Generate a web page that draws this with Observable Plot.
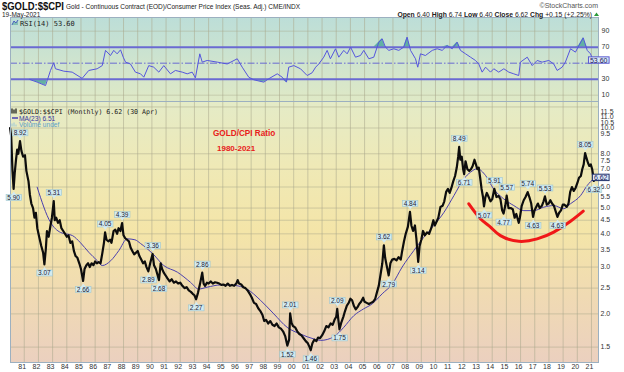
<!DOCTYPE html>
<html><head><meta charset="utf-8">
<script src="https://cdn.jsdelivr.net/npm/d3@7"></script>
<script src="https://cdn.jsdelivr.net/npm/@observablehq/plot@0.6"></script>
<style>
html,body{margin:0;padding:0;background:#fff;}
#root{position:relative;width:624px;height:372px;overflow:hidden;background:#fff;font-family:"Liberation Sans",Arial,sans-serif;}
.abs{position:absolute;}
#rsiBg{left:10px;top:17px;width:588px;height:84px;background:linear-gradient(#bcded8,#dfe9c6);}
#mainBg{left:10px;top:101px;width:588px;height:261px;background:linear-gradient(#e4ebc7 0%,#efe9b6 25%,#f4e5a8 50%,#f0dab3 75%,#ebd0bf 100%);}
svg{overflow:visible;}
</style></head>
<body>
<div id="root">
  <div id="rsiBg" class="abs"></div>
  <div id="mainBg" class="abs"></div>
  <div id="rsi" class="abs" style="left:0;top:17px;"></div>
  <div id="main" class="abs" style="left:0;top:101px;"></div>
  <svg id="ov" class="abs" width="624" height="372" style="left:0;top:0;pointer-events:none;font-family:'Liberation Sans',Arial,sans-serif;">
    <text x="2" y="10" font-size="11" font-weight="bold" textLength="62" lengthAdjust="spacingAndGlyphs" fill="#111">$GOLD:$$CPI</text>
    <text x="66" y="9" font-size="6.5" fill="#222">Gold - Continuous Contract (EOD)/Consumer Price Index (Seas. Adj.) CME/INDX</text>
    <text x="2" y="16.5" font-size="6.5" fill="#222">19-May-2021</text>
    <text x="598" y="8" font-size="7" fill="#555" text-anchor="end">©StockCharts.com</text>
    <text x="592" y="16.5" font-size="6.8" fill="#222" text-anchor="end"><tspan font-weight="bold">Open</tspan> 6.40  <tspan font-weight="bold">High</tspan> 6.74  <tspan font-weight="bold">Low</tspan> 6.40  <tspan font-weight="bold">Close</tspan> 6.62  <tspan font-weight="bold">Chg</tspan> +0.15 (+2.25%)</text>
    <path d="M594,16 L596.5,12.5 L599,16 Z" fill="#2a9a3a"/>
    <path d="M12,25 L14,21 L16,23 L18,20" fill="none" stroke="#4444cc" stroke-width="1"/>
    <path d="M12,25 L14,21 L16,23 L18,20 L18,25 Z" fill="#5aa8a0" opacity="0.6"/>
    <text x="20" y="25.5" font-size="7" fill="#222" font-family="DejaVu Sans Mono,monospace">RSI(14) 53.60</text>
    <path d="M12,113.5 v-5 M14,113.5 v-4 M16,113.5 v-5" stroke="#111" stroke-width="1.2"/>
    <text x="19" y="113.5" font-size="6.6" fill="#222" font-family="DejaVu Sans Mono,monospace">$GOLD:$$CPI (Monthly) 6.62 (30 Apr)</text>
    <path d="M12,118 h6" stroke="#4a40b0" stroke-width="1.5"/>
    <text x="19" y="120.5" font-size="6.6" fill="#3838a0">MA(23) 6.51</text>
    <path d="M12,126.5 v-3 M14,126.5 v-4 M16,126.5 v-2" stroke="#9cc8d8" stroke-width="1"/>
    <text x="19" y="127" font-size="6.6" fill="#5aa0c8">Volume undef</text>
    <text x="213" y="135.5" font-size="8.2" font-weight="bold" fill="#e8201a">GOLD/CPI Ratio</text>
    <text x="217" y="150.5" font-size="8" font-weight="bold" fill="#e8201a">1980-2021</text>
  </svg>
</div>
<script>
// ---------------- DATA ----------------
const priceYears = [1980.00,1980.08,1980.17,1980.25,1980.33,1980.42,1980.50,1980.58,1980.70,1980.80,1980.92,
1981.05,1981.15,1981.30,1981.40,1981.50,1981.62,1981.72,1981.82,1981.92,
1982.05,1982.20,1982.33,1982.42,1982.52,1982.60,1982.72,1982.85,1982.95,
1983.08,1983.15,1983.25,1983.38,1983.50,1983.62,1983.75,1983.88,
1984.00,1984.12,1984.25,1984.38,1984.50,1984.62,1984.75,1984.88,
1985.00,1985.15,1985.25,1985.38,1985.50,1985.62,1985.75,1985.88,
1986.00,1986.12,1986.25,1986.38,1986.50,1986.62,1986.70,1986.80,1986.92,
1987.05,1987.15,1987.30,1987.42,1987.55,1987.65,1987.78,1987.90,
1988.00,1988.12,1988.25,1988.38,1988.50,1988.62,1988.75,1988.88,
1989.00,1989.12,1989.25,1989.38,1989.50,1989.62,1989.75,1989.88,
1990.05,1990.15,1990.28,1990.40,1990.50,1990.62,1990.72,1990.85,1990.95,
1991.10,1991.25,1991.40,1991.55,1991.70,1991.85,
1992.00,1992.15,1992.30,1992.45,1992.60,1992.75,1992.88,
1993.00,1993.12,1993.25,1993.40,1993.55,1993.65,1993.75,1993.88,
1994.00,1994.15,1994.30,1994.45,1994.60,1994.75,1994.90,
1995.05,1995.20,1995.35,1995.50,1995.65,1995.80,1995.95,
1996.05,1996.15,1996.30,1996.45,1996.60,1996.75,1996.90,
1997.05,1997.20,1997.35,1997.50,1997.65,1997.80,1997.92,
1998.05,1998.20,1998.35,1998.50,1998.65,1998.80,1998.95,
1999.10,1999.25,1999.40,1999.55,1999.68,1999.75,1999.85,1999.95,
2000.10,2000.25,2000.40,2000.55,2000.70,2000.85,
2001.00,2001.12,2001.20,2001.32,2001.45,2001.60,2001.72,2001.85,
2002.00,2002.15,2002.30,2002.45,2002.60,2002.75,2002.88,
2003.00,2003.07,2003.15,2003.23,2003.35,2003.50,2003.62,2003.75,2003.88,
2004.00,2004.12,2004.25,2004.38,2004.50,2004.62,2004.75,2004.90,
2005.00,2005.15,2005.30,2005.45,2005.60,2005.75,2005.88,
2006.00,2006.12,2006.25,2006.36,2006.45,2006.55,2006.70,2006.82,2006.95,
2007.10,2007.25,2007.40,2007.55,2007.65,2007.78,2007.90,
2008.05,2008.20,2008.30,2008.42,2008.55,2008.65,2008.78,2008.88,
2009.00,2009.12,2009.25,2009.40,2009.55,2009.70,2009.85,2009.95,
2010.08,2010.20,2010.35,2010.50,2010.62,2010.75,2010.88,
2011.00,2011.12,2011.25,2011.38,2011.50,2011.60,2011.67,2011.75,2011.85,2011.95,
2012.02,2012.12,2012.25,2012.38,2012.50,2012.62,2012.75,2012.85,2012.95,
2013.05,2013.15,2013.25,2013.35,2013.42,2013.52,2013.62,2013.75,2013.88,
2014.00,2014.15,2014.30,2014.45,2014.58,2014.70,2014.80,2014.92,
2015.02,2015.15,2015.30,2015.45,2015.58,2015.70,2015.87,2015.95,
2016.08,2016.22,2016.35,2016.50,2016.62,2016.75,2016.88,2016.98,
2017.10,2017.22,2017.35,2017.50,2017.62,2017.72,2017.85,2017.98,
2018.10,2018.22,2018.35,2018.48,2018.60,2018.72,2018.85,2018.98,
2019.10,2019.25,2019.38,2019.50,2019.62,2019.75,2019.88,
2020.00,2020.12,2020.25,2020.35,2020.45,2020.55,2020.65,2020.75,2020.85,2020.95,
2021.05,2021.17,2021.25,2021.33];
const priceValues = [10.0,9.3,6.9,5.9,6.8,7.6,8.3,8.0,8.92,8.2,7.8,
7.9,6.9,6.3,5.6,5.2,5.0,4.6,4.8,4.2,
3.9,3.6,3.4,3.07,3.5,4.1,3.9,4.3,4.6,
5.31,4.5,4.6,4.4,4.5,4.2,4.1,4.0,
3.9,3.95,3.7,3.75,3.45,3.3,3.25,3.1,
2.95,2.66,2.95,3.05,3.1,3.0,3.1,3.05,
3.15,3.1,3.13,3.1,3.37,3.7,4.05,3.8,3.75,
3.8,3.7,4.1,4.15,4.0,4.2,4.1,4.39,
3.95,3.85,3.8,3.75,3.55,3.45,3.35,3.4,
3.45,3.3,3.2,3.1,3.15,3.0,2.89,3.1,
3.36,3.05,2.95,2.8,2.68,3.1,2.95,2.85,2.8,
2.72,2.65,2.7,2.62,2.65,2.6,
2.62,2.55,2.5,2.52,2.45,2.42,2.38,
2.35,2.27,2.4,2.6,2.86,2.6,2.55,2.62,
2.6,2.65,2.6,2.63,2.62,2.6,2.57,
2.58,2.55,2.6,2.55,2.57,2.55,2.6,
2.68,2.6,2.58,2.52,2.5,2.45,2.38,
2.3,2.2,2.18,2.1,2.05,1.98,1.88,
1.9,1.84,1.88,1.82,1.8,1.84,1.78,
1.76,1.72,1.65,1.52,1.6,2.01,1.85,1.8,
1.78,1.72,1.68,1.66,1.62,1.58,
1.55,1.5,1.46,1.55,1.6,1.58,1.63,1.62,
1.66,1.72,1.8,1.78,1.84,1.82,1.9,
1.95,2.09,1.9,1.75,1.85,1.95,2.05,2.15,2.2,
2.28,2.25,2.14,2.08,2.12,2.18,2.22,2.3,
2.22,2.2,2.18,2.2,2.22,2.28,2.42,
2.55,2.8,3.1,3.62,3.25,3.05,2.79,3.1,3.2,
3.22,3.18,3.27,3.2,3.45,3.75,4.0,
4.25,4.84,4.3,4.1,4.3,3.85,3.14,3.6,
3.8,4.1,3.95,4.05,4.0,4.2,4.5,4.3,
4.45,4.6,5.05,5.1,5.3,5.75,5.9,
5.7,5.95,6.3,6.6,7.1,7.8,8.49,7.6,7.8,7.0,
6.71,7.5,7.0,6.9,7.0,7.2,7.6,7.3,7.0,
7.1,6.5,5.9,5.5,5.07,5.5,5.7,5.5,5.3,
5.4,5.91,5.5,5.55,5.4,4.9,4.77,5.1,
5.57,5.0,5.0,4.95,4.6,4.75,4.4,4.6,
5.1,5.35,5.5,5.74,5.5,5.2,4.63,4.9,
5.05,5.2,5.0,5.1,5.3,5.53,5.15,5.2,
5.35,5.2,5.1,4.85,4.63,4.8,4.9,5.15,
5.15,5.05,5.2,5.75,6.0,5.8,5.95,
6.2,6.5,6.6,7.0,7.3,8.05,7.7,7.4,7.2,7.3,
7.0,6.32,6.5,6.62];

const maYears = [1981.91,1982.85,1983.55,1984.40,1984.97,1985.55,1986.15,1986.50,1987.10,1987.67,1988.26,1988.80,1989.20,1990.10,1990.84,1991.80,1992.72,1993.30,1993.90,1994.84,1995.78,1996.70,1997.66,1998.60,1999.54,2000.48,2001.42,2001.90,2002.83,2003.53,2004.24,2004.94,2005.53,2006.24,2006.95,2007.65,2008.47,2009.17,2009.88,2010.60,2011.30,2012.00,2012.47,2012.94,2013.53,2014.10,2014.80,2015.52,2016.23,2016.93,2017.64,2018.34,2019.05,2019.52,2020.23,2020.70,2021.17,2021.33];
const maValues = [5.99,4.42,4.05,3.94,3.70,3.41,3.17,3.04,3.17,3.46,3.83,3.80,3.68,3.35,3.04,2.87,2.63,2.48,2.52,2.57,2.56,2.48,2.25,2.00,1.78,1.68,1.61,1.59,1.64,1.78,1.97,2.09,2.18,2.38,2.59,3.00,3.46,3.88,4.30,4.82,5.57,6.44,6.82,7.03,6.63,5.90,5.42,5.11,4.89,4.89,5.04,5.11,4.97,5.19,5.57,6.08,6.44,6.51];

const rsiYears = [1981.39,1981.91,1982.50,1982.62,1982.85,1983.08,1983.20,1983.79,1984.38,1985.08,1985.55,1986.14,1986.50,1986.73,1987.08,1987.31,1987.55,1987.79,1987.98,1988.14,1988.49,1988.84,1989.20,1989.43,1989.78,1990.13,1990.49,1990.84,1991.31,1991.66,1992.14,1992.49,1992.84,1993.07,1993.38,1993.55,1993.90,1994.61,1995.31,1996.02,1996.37,1996.83,1997.19,1997.89,1998.24,1998.84,1999.19,1999.49,1999.65,2000.01,2000.48,2000.95,2001.30,2001.55,2001.77,2002.12,2002.36,2002.59,2002.95,2003.18,2003.53,2003.77,2004.01,2004.36,2004.71,2004.94,2005.30,2005.65,2006.00,2006.24,2006.47,2006.71,2007.06,2007.41,2007.76,2008.00,2008.24,2008.59,2008.75,2008.94,2009.29,2009.77,2010.12,2010.47,2010.82,2011.18,2011.53,2011.76,2012.12,2012.47,2012.82,2013.05,2013.29,2013.53,2013.88,2014.11,2014.46,2014.82,2015.17,2015.52,2015.87,2015.99,2016.47,2016.82,2017.17,2017.52,2017.99,2018.34,2018.58,2018.93,2019.16,2019.52,2019.87,2020.11,2020.42,2020.70,2020.93,2021.16,2021.29];
const rsiValues = [29.6,26.3,22.0,28.4,40.9,50.5,43.0,40.0,38.8,31.0,40.9,43.0,47.0,66.0,59.6,66.0,61.7,66.7,57.5,51.3,49.0,38.8,36.7,32.5,47.0,45.0,38.8,47.0,36.7,40.9,38.8,36.7,38.8,31.7,61.7,51.3,53.4,51.3,49.0,55.5,45.0,32.5,29.2,26.3,30.5,36.7,32.5,26.3,45.0,47.0,43.0,34.6,38.0,45.0,49.0,57.5,66.0,55.5,68.0,57.5,66.0,61.7,70.0,57.5,59.6,66.0,55.5,57.5,76.3,80.5,70.0,66.0,68.0,66.0,70.0,82.5,66.0,55.5,45.0,61.7,59.6,66.0,68.0,66.0,72.0,68.0,76.3,66.0,61.7,57.5,53.4,49.0,38.8,45.0,38.8,43.0,38.8,43.0,38.8,36.7,34.6,51.3,57.5,47.0,53.4,51.3,53.4,49.0,40.9,45.0,51.3,68.0,63.8,72.0,81.7,66.0,61.7,51.3,53.6];

const peakYears  = [1980.70,1983.08,1986.70,1987.90,1990.05,1993.55,1999.75,2003.07,2006.36,2008.20,2011.67,2014.15,2015.02,2016.50,2017.72,2020.55];
const peakValues = [8.92,5.31,4.05,4.39,3.36,2.86,2.01,2.09,3.62,4.84,8.49,5.91,5.57,5.74,5.53,8.05];
const troughYears  = [1980.25,1982.42,1985.15,1989.75,1990.50,1993.12,1999.55,2001.20,2003.23,2006.70,2008.78,2012.02,2013.42,2014.80,2016.88,2018.60,2021.17];
const troughValues = [5.90,3.07,2.66,2.89,2.68,2.27,1.52,1.46,1.75,2.79,3.14,6.71,5.07,4.77,4.63,4.63,6.32];

const arcYears  = [2012.35,2013.17,2013.88,2014.58,2015.87,2017.17,2018.34,2019.52,2020.42];
const arcValues = [5.19,4.56,4.24,3.94,3.75,3.83,4.06,4.46,4.87];

const yearTicks = d3.range(1981, 2022);
const priceTickValues = [1.5,2.0,2.5,3.0,3.5,4.0,4.5,5.0,5.5,6.0,7.0,7.5,8.0,8.5,9.0,9.5,10.0,10.5,11.0,11.5];
const priceGridValues = [1.5,2,2.5,3,3.5,4,4.5,5,6,7,8,10,12];
const rsiTickValues = [10,30,70,90];
const lastClose = 6.62, lastRsi = 53.60;

// ---------------- BUILD ----------------
const price = priceYears.map((t,i)=>({t, v: priceValues[i]}));
const ma = maYears.map((t,i)=>({t, v: maValues[i]}));
const rsi = rsiYears.map((t,i)=>({t, r: rsiValues[i]}));
const peaks = peakYears.map((t,i)=>({t, v: peakValues[i]}));
const troughs = troughYears.map((t,i)=>({t, v: troughValues[i]}));
const arc = arcYears.map((t,i)=>({t, v: arcValues[i]}));

const xDomain = [1980.03, 2021.495];
const gridColor = "#a9a88c";
const font = "'Liberation Sans', Arial, sans-serif";

const rsiPlot = Plot.plot({
  width: 624, height: 84, marginLeft: 10, marginRight: 26, marginTop: 0, marginBottom: 0,
  style: {background: "transparent", fontFamily: font, fontSize: "7px", overflow: "visible"},
  x: {domain: xDomain, label: null, axis: null},
  y: {domain: [2.1, 107.1], label: null},
  marks: [
    Plot.ruleX(yearTicks, {stroke: gridColor, strokeOpacity: 0.55}),
    Plot.ruleY([10, 90], {stroke: gridColor, strokeOpacity: 0.45}),
    Plot.areaY(rsi, {x: "t", y1: 70, y2: d => Math.max(d.r, 70), fill: "#4fa89c", fillOpacity: 0.85}),
    Plot.areaY(rsi, {x: "t", y1: 30, y2: d => Math.min(d.r, 30), fill: "#4fa89c", fillOpacity: 0.85}),
    Plot.ruleY([70, 30], {stroke: "#6a6ad2", strokeWidth: 2}),
    Plot.ruleY([50], {stroke: "#6a6ad2", strokeWidth: 1, strokeDasharray: "7,2,1.5,2"}),
    Plot.line(rsi, {x: "t", y: "r", stroke: "#5555dd", strokeWidth: 1}),
    Plot.axisY(rsiTickValues, {anchor: "right", tickSize: 0, tickPadding: 3, label: null, fill: "#333"}),
    Plot.frame({stroke: "#9cb0c0"}),
    Plot.text([{r: lastRsi}], {y: "r", frameAnchor: "right", dx: 9, text: d => d.r.toFixed(2), fontSize: 7, fill: "#1a1a60"})
  ]
});
document.getElementById("rsi").appendChild(rsiPlot);

const mainPlot = Plot.plot({
  width: 624, height: 271, marginLeft: 10, marginRight: 26, marginTop: 0, marginBottom: 10,
  style: {background: "transparent", fontFamily: font, fontSize: "7px", overflow: "visible"},
  x: {domain: xDomain, label: null},
  y: {type: "log", domain: [1.313, 12.58], label: null},
  marks: [
    Plot.ruleX(yearTicks, {stroke: gridColor, strokeOpacity: 0.55}),
    Plot.ruleY(priceGridValues, {stroke: gridColor, strokeOpacity: 0.5}),
    Plot.line(ma, {x: "t", y: "v", stroke: "#4a3fae", strokeWidth: 1, curve: "monotone-x"}),
    Plot.line(price, {x: "t", y: "v", stroke: "#0d0d0d", strokeWidth: 2.2}),
    Plot.line(arc, {x: "t", y: "v", stroke: "#f01818", strokeWidth: 3, curve: "natural"}),
    Plot.axisY(priceTickValues, {anchor: "right", tickSize: 0, tickPadding: 2, label: null, tickFormat: d => d.toFixed(1), fill: "#333"}),
    Plot.axisX(yearTicks, {tickSize: 0, tickPadding: 2, label: null, dx: -2, tickFormat: d => String(d % 100).padStart(2, "0"), fill: "#333"}),
    Plot.frame({stroke: "#9cb0c0"}),
    Plot.text(peaks, {x: "t", y: "v", dy: -8, text: d => d.v.toFixed(2), fontSize: 6.5, fill: "#223"}),
    Plot.text(troughs, {x: "t", y: "v", dy: 9, text: d => d.v.toFixed(2), fontSize: 6.5, fill: "#223"}),
    Plot.text([{v: lastClose}], {y: "v", frameAnchor: "right", dx: 9, dy: 2, text: d => d.v.toFixed(2), fontSize: 7, fill: "#1a1a60"})
  ]
});
document.getElementById("main").appendChild(mainPlot);

// boxes behind label texts
function decorate(svg, index, {fill, stroke, sw = 0.6, padX = 1.2, padY = -0.5, pointer = null}) {
  const ns = "http://www.w3.org/2000/svg";
  const groups = svg.querySelectorAll('g[aria-label="text"]');
  const g = groups[index];
  if (!g) return;
  for (const t of Array.from(g.querySelectorAll("text"))) {
    const b = t.getBBox();
    const tr = t.getAttribute("transform");
    const r = document.createElementNS(ns, "rect");
    r.setAttribute("x", b.x - padX);
    r.setAttribute("y", b.y - padY);
    r.setAttribute("width", b.width + 2 * padX);
    r.setAttribute("height", b.height + 2 * padY);
    r.setAttribute("fill", fill);
    r.setAttribute("stroke", stroke);
    r.setAttribute("stroke-width", sw);
    if (tr) r.setAttribute("transform", tr);
    g.insertBefore(r, t);
    if (pointer) {
      const p = document.createElementNS(ns, "path");
      const cx = b.x + b.width / 2;
      let d;
      if (pointer === "down") { const yb = b.y + b.height + padY; d = `M${cx-2.5},${yb-0.4}L${cx},${yb+3}L${cx+2.5},${yb-0.4}Z`; }
      else { const yt = b.y - padY; d = `M${cx-2.5},${yt+0.4}L${cx},${yt-3}L${cx+2.5},${yt+0.4}Z`; }
      p.setAttribute("d", d);
      p.setAttribute("fill", fill);
      if (tr) p.setAttribute("transform", tr);
      g.insertBefore(p, t);
    }
  }
}
decorate(mainPlot, 0, {fill: "#d3ebf1", stroke: "#9ec6cf", pointer: "down"});
decorate(mainPlot, 1, {fill: "#d3ebf1", stroke: "#9ec6cf", pointer: "up"});
decorate(mainPlot, 2, {fill: "#dbe7f5", stroke: "#1f2f6a", sw: 1, padX: 1.5, padY: -0.3});
decorate(rsiPlot, 0, {fill: "#dbe7f5", stroke: "#5a5ad0", sw: 1, padX: 1.5, padY: -0.3});
</script>
</body></html>
